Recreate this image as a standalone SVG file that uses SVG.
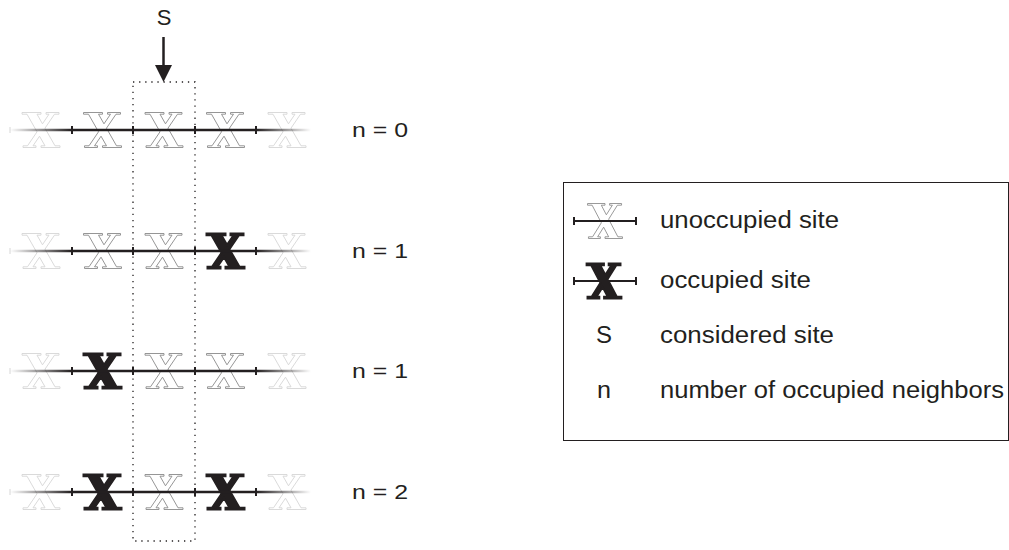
<svg xmlns="http://www.w3.org/2000/svg" width="1009" height="550" viewBox="0 0 1009 550">
  <style>
    .lbl { font-family: "Liberation Sans", Arial, sans-serif; font-size: 20px; fill: #231f20; }
    .lbl.big { font-size: 22px; }
    .leg { font-family: "Liberation Sans", Arial, sans-serif; font-size: 23px; fill: #231f20; }
    .free { fill: none; stroke: #8a8a8a; stroke-width: 0.9; }
    .faint { fill: none; stroke: #d6d6d6; stroke-width: 0.9; }
    .occ { fill: #231f20; stroke: #231f20; stroke-width: 2; stroke-linejoin: miter; }
    .bond { stroke: #231f20; stroke-width: 2.5; fill: none; }
    .tick { stroke: #231f20; stroke-width: 2; }
    .fadeL { stroke: url(#gL); stroke-width: 2.5; }
    .fadeR { stroke: url(#gR); stroke-width: 2.5; }
    .dots { fill: none; stroke: #231f20; stroke-width: 1.3; stroke-dasharray: 1.3 4.8; }
  </style>
  <defs>
    <!-- serif-style cross used as the site marker -->
    <path id="site" d="M-19,-17.5 L0,-17.5 L0,-15.8 L-4,-15.8 L1.47,-6.2 L8,-15.8 L5,-15.8 L5,-17.5 L18,-17.5 L18,-15.8 L13.5,-15.8 L3.98,-1.8 L14,15.8 L19,15.8 L19,17.5 L0,17.5 L0,15.8 L4,15.8 L-1.47,6.2 L-8,15.8 L-5,15.8 L-5,17.5 L-18,17.5 L-18,15.8 L-13.5,15.8 L-3.98,1.8 L-14,-15.8 L-19,-15.8 Z"/>
    <linearGradient id="gL" gradientUnits="userSpaceOnUse" x1="10" y1="0" x2="72" y2="0">
      <stop offset="0" stop-color="#231f20" stop-opacity="0"/>
      <stop offset="1" stop-color="#231f20" stop-opacity="1"/>
    </linearGradient>
    <linearGradient id="gR" gradientUnits="userSpaceOnUse" x1="256" y1="0" x2="311" y2="0">
      <stop offset="0" stop-color="#231f20" stop-opacity="1"/>
      <stop offset="1" stop-color="#231f20" stop-opacity="0"/>
    </linearGradient>
    <!-- chain segment: bond line with ticks between sites -->
    <g id="chain">
      <line class="fadeL" x1="10" y1="0" x2="72" y2="0"/>
      <line class="bond" x1="72" y1="0" x2="256" y2="0"/>
      <line class="fadeR" x1="256" y1="0" x2="311" y2="0"/>
      <line class="tick" x1="72" y1="-4" x2="72" y2="4"/>
      <line class="tick" x1="133" y1="-4" x2="133" y2="4"/>
      <line class="tick" x1="195" y1="-4" x2="195" y2="4"/>
      <line class="tick" x1="256" y1="-4" x2="256" y2="4"/>
      <line x1="10" y1="-3" x2="10" y2="3" stroke="#231f20" stroke-opacity="0.12" stroke-width="1.5"/>
    </g>
  </defs>

  <rect width="1009" height="550" fill="#ffffff"/>

  <!-- considered-site marker -->
  <g id="marker-s">
    <text class="lbl big" x="164" y="25" text-anchor="middle">S</text>
    <line x1="163.5" y1="37" x2="163.5" y2="66" stroke="#231f20" stroke-width="2.5"/>
    <polygon points="155,65 172,65 163.5,82" fill="#231f20"/>
  </g>

  <!-- window around the considered site -->
  <rect id="window" class="dots" x="133" y="82" width="62" height="459"/>

  <!-- row n = 0 -->
  <g id="row0" transform="translate(0,130)">
    <use href="#site" class="faint" x="41"/>
    <use href="#site" class="free" x="102.5"/>
    <use href="#site" class="free" x="164"/>
    <use href="#site" class="free" x="225.5"/>
    <use href="#site" class="faint" x="287"/>
    <use href="#chain"/>
    <text class="lbl" x="352" y="7" textLength="56" lengthAdjust="spacingAndGlyphs">n = 0</text>
  </g>

  <!-- row n = 1 (right neighbour) -->
  <g id="row1" transform="translate(0,251)">
    <use href="#site" class="faint" x="41"/>
    <use href="#site" class="free" x="102.5"/>
    <use href="#site" class="free" x="164"/>
    <use href="#site" class="occ" x="225.5"/>
    <use href="#site" class="faint" x="287"/>
    <use href="#chain"/>
    <text class="lbl" x="352" y="7" textLength="56" lengthAdjust="spacingAndGlyphs">n = 1</text>
  </g>

  <!-- row n = 1 (left neighbour) -->
  <g id="row2" transform="translate(0,371)">
    <use href="#site" class="faint" x="41"/>
    <use href="#site" class="occ" x="102.5"/>
    <use href="#site" class="free" x="164"/>
    <use href="#site" class="free" x="225.5"/>
    <use href="#site" class="faint" x="287"/>
    <use href="#chain"/>
    <text class="lbl" x="352" y="7" textLength="56" lengthAdjust="spacingAndGlyphs">n = 1</text>
  </g>

  <!-- row n = 2 -->
  <g id="row3" transform="translate(0,492)">
    <use href="#site" class="faint" x="41"/>
    <use href="#site" class="occ" x="102.5"/>
    <use href="#site" class="free" x="164"/>
    <use href="#site" class="occ" x="225.5"/>
    <use href="#site" class="faint" x="287"/>
    <use href="#chain"/>
    <text class="lbl" x="352" y="7" textLength="56" lengthAdjust="spacingAndGlyphs">n = 2</text>
  </g>

  <!-- legend -->
  <g id="legend">
    <rect x="563.5" y="182.5" width="445" height="258" fill="none" stroke="#231f20" stroke-width="1"/>
    <g id="leg-free" transform="translate(0,221)">
      <use href="#site" class="free" transform="translate(605,0) scale(0.92,1)"/>
      <line x1="574" y1="0" x2="636" y2="0" stroke="#231f20" stroke-width="2"/>
      <line class="tick" x1="574" y1="-4" x2="574" y2="4"/>
      <line class="tick" x1="636" y1="-4" x2="636" y2="4"/>
      <text class="leg" x="660" y="7" textLength="179" lengthAdjust="spacingAndGlyphs">unoccupied site</text>
    </g>
    <g id="leg-occ" transform="translate(0,281)">
      <use href="#site" class="occ" transform="translate(604,0) scale(0.92,1)"/>
      <line x1="574" y1="0" x2="636" y2="0" stroke="#231f20" stroke-width="2"/>
      <line class="tick" x1="574" y1="-4" x2="574" y2="4"/>
      <line class="tick" x1="636" y1="-4" x2="636" y2="4"/>
      <text class="leg" x="660" y="7" textLength="151" lengthAdjust="spacingAndGlyphs">occupied site</text>
    </g>
    <g id="leg-s">
      <text class="leg" x="596" y="343" textLength="16" lengthAdjust="spacingAndGlyphs">S</text>
      <text class="leg" x="660" y="343" textLength="174" lengthAdjust="spacingAndGlyphs">considered site</text>
    </g>
    <g id="leg-n">
      <text class="leg" x="597" y="398" textLength="14" lengthAdjust="spacingAndGlyphs">n</text>
      <text class="leg" x="660" y="398" textLength="344" lengthAdjust="spacingAndGlyphs">number of occupied neighbors</text>
    </g>
  </g>
</svg>
